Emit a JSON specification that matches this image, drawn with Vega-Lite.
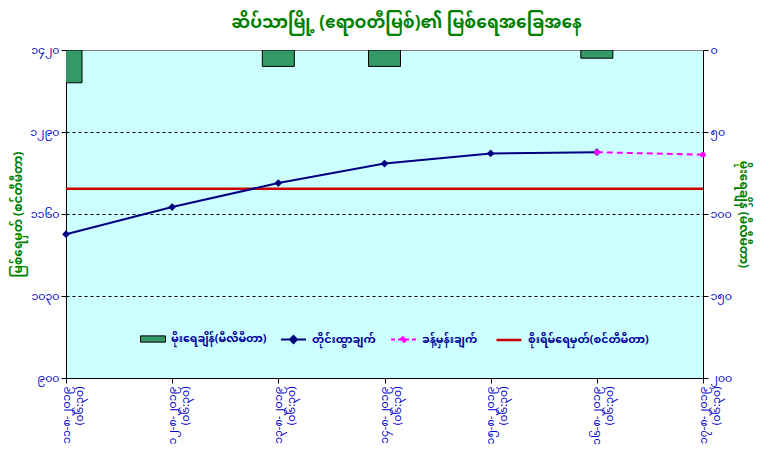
{
  "$schema": "https://vega.github.io/schema/vega-lite/v6.json",
  "width": 637,
  "height": 328,
  "autosize": {"type": "none"},
  "padding": {"left": 66, "top": 50, "right": 59, "bottom": 83},
  "background": "white",
  "title": {
    "text": "ဆိပ်သာမြို့ (ဧရာဝတီမြစ်)၏ မြစ်ရေအခြေအနေ",
    "color": "#008000",
    "fontSize": 17,
    "fontWeight": "bold",
    "anchor": "middle",
    "dx": 22,
    "offset": 12
  },
  "datasets": {
    "river": [
      {"date": "၁၁-၈-၂၀၁၉ (၀၆:၃၀)", "level": 1128, "forecast": null, "rain": 20},
      {"date": "၁၂-၈-၂၀၁၉ (၀၆:၃၀)", "level": 1171, "forecast": null, "rain": null},
      {"date": "၁၃-၈-၂၀၁၉ (၀၆:၃၀)", "level": 1209, "forecast": null, "rain": 10},
      {"date": "၁၄-၈-၂၀၁၉ (၀၆:၃၀)", "level": 1240, "forecast": null, "rain": 10},
      {"date": "၁၅-၈-၂၀၁၉ (၀၆:၃၀)", "level": 1256, "forecast": null, "rain": null},
      {"date": "၁၆-၈-၂၀၁၉ (၀၆:၃၀)", "level": 1258, "forecast": 1258, "rain": 5},
      {"date": "၁၇-၈-၂၀၁၉ (၀၆:၃၀)", "level": null, "forecast": 1254, "rain": null}
    ],
    "danger": [{"level": 1200}]
  },
  "config": {
    "font": "Noto Sans Myanmar",
    "view": {"fill": "#CCFFFF", "stroke": "#808080", "strokeWidth": 1},
    "axis": {
      "domainColor": "black",
      "tickColor": "black",
      "tickSize": 5,
      "labelColor": "#0000CC",
      "labelFontSize": 11,
      "titleColor": "#008000",
      "titleFontSize": 12,
      "titleFontWeight": "bold",
      "grid": false
    },
    "axisX": {
      "labelAngle": -90,
      "labelLineHeight": 13,
      "labelPadding": 3,
      "labelExpr": "split(datum.value, ' ')",
      "title": null
    },
    "axisLeft": {"titlePadding": 5},
    "axisRight": {"titlePadding": 5},
    "legend": {
      "orient": "none",
      "legendY": 276,
      "title": null,
      "symbolSize": 625,
      "symbolStrokeWidth": 2,
      "labelOffset": 5,
      "labelFontSize": 11,
      "labelFontWeight": "bold",
      "labelColor": "#000099",
      "labelLimit": 300
    }
  },
  "resolve": {"scale": {"y": "independent", "color": "independent"}},
  "layer": [
    {
      "data": {"name": "river"},
      "transform": [{"filter": "datum.rain != null"}],
      "mark": {"type": "bar", "width": 32, "stroke": "black", "strokeWidth": 1, "clip": true},
      "encoding": {
        "x": {
          "field": "date",
          "type": "ordinal",
          "scale": {
            "type": "point",
            "padding": 0,
            "domain": ["၁၁-၈-၂၀၁၉ (၀၆:၃၀)", "၁၂-၈-၂၀၁၉ (၀၆:၃၀)", "၁၃-၈-၂၀၁၉ (၀၆:၃၀)", "၁၄-၈-၂၀၁၉ (၀၆:၃၀)", "၁၅-၈-၂၀၁၉ (၀၆:၃၀)", "၁၆-၈-၂၀၁၉ (၀၆:၃၀)", "၁၇-၈-၂၀၁၉ (၀၆:၃၀)"]
          }
        },
        "y": {
          "field": "rain",
          "type": "quantitative",
          "title": "မိုးရေချိန် (မီလီမီတာ)",
          "scale": {"domain": [0, 200], "reverse": true, "nice": false},
          "axis": {
            "orient": "right",
            "values": [0, 50, 100, 150, 200],
            "titleAngle": 90,
            "labelExpr": "replace(replace(replace(replace(replace(replace(replace(replace(replace(replace(toString(datum.value),regexp('0','g'),'၀'),regexp('1','g'),'၁'),regexp('2','g'),'၂'),regexp('3','g'),'၃'),regexp('4','g'),'၄'),regexp('5','g'),'၅'),regexp('6','g'),'၆'),regexp('7','g'),'၇'),regexp('8','g'),'၈'),regexp('9','g'),'၉')"
          }
        },
        "color": {
          "datum": "မိုးရေချိန်(မီလီမီတာ)",
          "type": "nominal",
          "scale": {"range": ["#339966"]},
          "legend": {
            "legendX": 74,
            "symbolType": "M-1,-0.25L1,-0.25L1,0.25L-1,0.25Z",
            "symbolStrokeColor": "black",
            "symbolStrokeWidth": 1
          }
        }
      }
    },
    {
      "resolve": {"scale": {"color": "independent"}},
      "layer": [
        {
          "data": {"name": "danger"},
          "mark": {"type": "rule", "strokeWidth": 2.5},
          "encoding": {
            "y": {"field": "level", "type": "quantitative", "title": "မြစ်ရေမှတ် (စင်တီမီတာ)"},
            "color": {
              "datum": "စိုးရိမ်ရေမှတ်(စင်တီမီတာ)",
              "type": "nominal",
              "scale": {"range": ["#CC0000"]},
              "legend": {"legendX": 429, "symbolType": "M-1,0L1,0", "symbolStrokeWidth": 2.5}
            }
          }
        },
        {
          "data": {"name": "river"},
          "mark": {"type": "line", "strokeWidth": 2, "point": {"shape": "diamond", "filled": true, "size": 60}},
          "encoding": {
            "x": {"field": "date", "type": "ordinal"},
            "y": {
              "field": "level",
              "type": "quantitative",
              "title": "မြစ်ရေမှတ် (စင်တီမီတာ)",
              "scale": {"domain": [900, 1420], "nice": false, "zero": false},
              "axis": {
                "orient": "left",
                "values": [900, 1030, 1160, 1290, 1420],
                "grid": true,
                "gridDash": [3, 3],
                "gridColor": {"condition": {"test": "datum.value == 900 || datum.value == 1420", "value": "transparent"}, "value": "black"},
                "labelExpr": "replace(replace(replace(replace(replace(replace(replace(replace(replace(replace(toString(datum.value),regexp('0','g'),'၀'),regexp('1','g'),'၁'),regexp('2','g'),'၂'),regexp('3','g'),'၃'),regexp('4','g'),'၄'),regexp('5','g'),'၅'),regexp('6','g'),'၆'),regexp('7','g'),'၇'),regexp('8','g'),'၈'),regexp('9','g'),'၉')"
              }
            },
            "color": {
              "datum": "တိုင်းထွာချက်",
              "type": "nominal",
              "scale": {"range": ["#000080"]},
              "legend": {"legendX": 214, "symbolType": "M-1,0L1,0M-0.28,0L0,-0.28L0.28,0L0,0.28Z", "symbolFillColor": "#000080"}
            }
          }
        },
        {
          "data": {"name": "river"},
          "mark": {"type": "line", "strokeWidth": 2, "strokeDash": [6, 4], "point": {"shape": "circle", "filled": true, "size": 30}},
          "encoding": {
            "x": {"field": "date", "type": "ordinal"},
            "y": {"field": "forecast", "type": "quantitative", "title": "မြစ်ရေမှတ် (စင်တီမီတာ)"},
            "color": {
              "datum": "ခန့်မှန်းချက်",
              "type": "nominal",
              "scale": {"range": ["#FF00FF"]},
              "legend": {"legendX": 324, "symbolType": "M-1,0L1,0M-0.18,0A0.18,0.18 0 1 1 0.18,0A0.18,0.18 0 1 1 -0.18,0Z", "symbolFillColor": "#FF00FF", "symbolDash": [4, 3]}
            }
          }
        }
      ]
    }
  ]
}
